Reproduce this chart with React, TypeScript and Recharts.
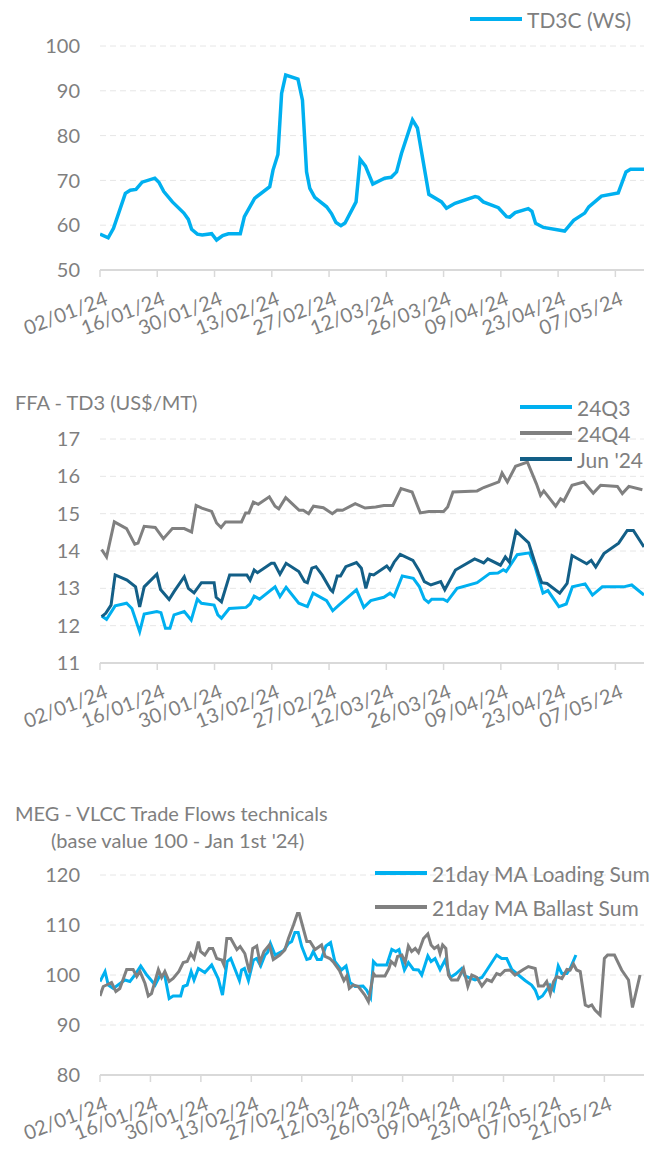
import React from "react";
import { LineChart, Line, XAxis, YAxis, CartesianGrid } from "recharts";

// day offsets are counted from 02/01/24
const tickDays = [0, 14, 28, 42, 56, 70, 84, 98, 112, 126];
const tickLabels = ["02/01/24", "16/01/24", "30/01/24", "13/02/24", "27/02/24", "12/03/24", "26/03/24", "09/04/24", "23/04/24", "07/05/24"];
const tickDays3 = [0, 14, 28, 42, 56, 70, 84, 98, 112, 126, 140];
const tickLabels3 = [...tickLabels, "21/05/24"];

// TD3C (WS) spot
const td3c = [
  [0, 58.0], [2, 57.2], [3.3, 59.3], [6.2, 67.1], [7.4, 67.8], [8.8, 68.0], [10.3, 69.6], [13.4, 70.5], [14.4, 69.6],
  [15.6, 67.5], [17.7, 65.2], [20.5, 62.7], [21.6, 61.3], [22.4, 59.1], [23.8, 58.0], [25, 57.8], [27.3, 58.1],
  [28.5, 56.7], [30, 57.7], [31.4, 58.1], [34.3, 58.1], [35.3, 61.9], [37.8, 66.0], [41.5, 68.6], [42.3, 72.3],
  [43.5, 75.8], [44.4, 89.4], [45.4, 93.5], [48.4, 92.6], [49.5, 87.9], [50.5, 71.9], [51.3, 68.2], [52.5, 66.2],
  [55.4, 64.1], [56.6, 62.6], [57.7, 60.6], [58.9, 59.9], [59.9, 60.5], [62.6, 65.2], [63.6, 74.7], [64.9, 73.2],
  [66.7, 69.2], [69.6, 70.5], [71.2, 70.7], [72.5, 71.9], [73.7, 76.0], [76.4, 83.5], [77.6, 81.7], [80.4, 66.9],
  [83.5, 65.2], [84.7, 63.8], [86.8, 64.9], [91.7, 66.4], [92.5, 66.2], [93.7, 65.2], [97.4, 63.9], [99.4, 61.9],
  [100.2, 61.8], [101.5, 62.8], [104.7, 63.7], [105.6, 63.1], [106.5, 60.4], [108.4, 59.5], [113.6, 58.7],
  [115.8, 61.1], [118.5, 62.7], [119.5, 64.1], [122.6, 66.5], [126.7, 67.2], [128.6, 71.9], [129.7, 72.5], [133, 72.5],
];

// FFA TD3 US$/MT
const q3 = [
  [0.4, 12.26], [1.6, 12.17], [3.7, 12.53], [6.5, 12.6], [7.8, 12.46], [9.7, 11.84], [10.8, 12.31], [13.9, 12.38],
  [14.9, 12.35], [16, 11.93], [17.1, 11.93], [18.1, 12.29], [20.6, 12.38], [22.3, 12.15], [23.8, 12.71], [24.8, 12.6],
  [27.9, 12.55], [28.8, 12.29], [29.7, 12.2], [31.6, 12.46], [35.7, 12.49], [36.7, 12.58], [37.7, 12.79], [39, 12.71],
  [42.8, 13.04], [44, 12.78], [45.5, 13.03], [48.6, 12.6], [50.7, 12.51], [52.1, 12.87], [55.4, 12.67], [56.9, 12.4],
  [58.4, 12.55], [62.7, 12.96], [64.5, 12.49], [66.2, 12.67], [69.4, 12.76], [70.9, 12.87], [71.9, 12.78],
  [73.9, 13.33], [76.6, 13.27], [78.1, 13.04], [79.3, 12.71], [80.3, 12.62], [81.1, 12.71], [83.9, 12.71],
  [84.9, 12.65], [87.3, 13.0], [92.2, 13.15], [95.3, 13.4], [97.3, 13.41], [98.6, 13.5], [99.3, 13.45], [102, 13.9],
  [105, 13.95], [106.3, 13.6], [108.3, 12.87], [109.5, 12.94], [112.2, 12.51], [114, 12.58], [115.5, 13.04],
  [118.6, 13.12], [120.4, 12.82], [122.8, 13.04], [128, 13.04], [130, 13.09], [133, 12.82],
];
const q4 = [
  [0.4, 14.04], [1.6, 13.84], [3.5, 14.78], [6.5, 14.6], [8.5, 14.18], [9.3, 14.21], [10.8, 14.66], [13.5, 14.63],
  [15.5, 14.33], [17.7, 14.6], [20.6, 14.6], [22.4, 14.51], [23.5, 15.22], [24.9, 15.15], [27.3, 15.06], [28.5, 14.75],
  [29.6, 14.63], [30.7, 14.78], [34.6, 14.78], [35.6, 15.02], [36.4, 15.02], [37.5, 15.31], [38.7, 15.25],
  [41.4, 15.45], [42.8, 15.2], [43.7, 15.13], [45.4, 15.43], [48.7, 15.09], [49.7, 15.09], [51, 15.0], [52.2, 15.2],
  [54.6, 15.16], [56.8, 15.0], [58, 15.1], [59.3, 15.09], [62.4, 15.27], [64.8, 15.15], [67.4, 15.18], [69.4, 15.22],
  [71.6, 15.22], [73.6, 15.67], [76.3, 15.58], [78.3, 15.02], [80.4, 15.06], [84, 15.06], [85, 15.18], [86.3, 15.58],
  [92.2, 15.61], [93.8, 15.7], [97.5, 15.85], [98.3, 16.09], [99.6, 15.85], [101.6, 16.27], [104.5, 16.38],
  [106.7, 15.8], [107.7, 15.49], [108.5, 15.61], [111.4, 15.2], [112.6, 15.4], [113.4, 15.34], [115.4, 15.76],
  [118.3, 15.85], [120.6, 15.55], [122.4, 15.76], [126.5, 15.73], [127.7, 15.54], [129.3, 15.73], [132.6, 15.64],
];
const jun24 = [
  [0.4, 12.24], [1.4, 12.33], [2.7, 12.55], [3.7, 13.36], [6.6, 13.22], [8.7, 13.04], [9.7, 12.5], [10.8, 13.04],
  [13.9, 13.38], [14.8, 12.97], [16.9, 12.7], [18.1, 12.91], [20.6, 13.31], [21.6, 13.0], [23, 12.88], [24.8, 13.15],
  [27.9, 13.15], [28.4, 12.76], [29.7, 12.64], [31.7, 13.36], [35.9, 13.36], [36.7, 13.22], [37.7, 13.49],
  [38.5, 13.42], [41.9, 13.67], [42.6, 13.67], [44, 13.38], [45.5, 13.67], [48.6, 13.45], [50, 13.18], [50.7, 13.15],
  [51.8, 13.54], [52.8, 13.58], [54.3, 13.36], [56.4, 12.96], [56.9, 12.91], [58, 13.33], [58.8, 13.33], [60.1, 13.58],
  [62.7, 13.69], [63.9, 13.54], [65, 13.0], [66, 13.38], [66.9, 13.36], [70.1, 13.6], [70.9, 13.49], [71.9, 13.7],
  [73.4, 13.91], [76.5, 13.75], [78, 13.48], [79.3, 13.18], [80.9, 13.09], [83.3, 13.18], [84.3, 12.96], [86.9, 13.49],
  [91.6, 13.79], [93, 13.72], [93.8, 13.68], [94.8, 13.79], [97.9, 13.62], [99.1, 13.84], [100.1, 13.7],
  [101.7, 14.53], [104.8, 14.22], [106.3, 13.7], [107.2, 13.39], [108, 13.15], [109.3, 13.13], [112.4, 12.87],
  [114.2, 13.13], [115.4, 13.88], [119, 13.66], [120.1, 13.75], [121.2, 13.57], [123.2, 13.93], [126.8, 14.21],
  [128.9, 14.55], [130.4, 14.55], [133, 14.11],
];

// MEG VLCC 21day MA, base 100
const loading = [
  [0, 98.7], [1.4, 100.7], [2.3, 98.0], [3.7, 97.3], [6.9, 99.0], [8.3, 98.7], [9.7, 100], [11.3, 101.8], [13, 100],
  [15.3, 98], [16.7, 100], [18, 99.8], [19.2, 95.3], [20.3, 95.8], [22.4, 95.8], [23.1, 97.7], [24.2, 98],
  [25.3, 100.7], [26.1, 99], [27.3, 101.3], [29.1, 100.5], [31, 102], [32.8, 99.3], [34, 96], [35.3, 102.7],
  [36.3, 103.3], [38.7, 98.9], [39.3, 101], [40.1, 101.3], [41.2, 98.9], [42.6, 103], [43.5, 103.3], [44.6, 101.8],
  [45.8, 104], [46.5, 104.5], [47.3, 106.3], [48.6, 104], [51, 104.9], [52.3, 106.3], [53.2, 106.7], [54.1, 108.5],
  [55, 108.5], [56, 105.7], [57.4, 103.1], [58.3, 103.3], [59.2, 104.7], [60.3, 103.1], [61.4, 103.1], [62.7, 105.8],
  [64, 106.5], [65.2, 102.7], [67, 101], [68.3, 101.8], [69.4, 98.5], [70.8, 97.7], [73, 97.8], [74, 97],
  [75.1, 95.5], [75.9, 102.7], [76.8, 102], [79.6, 102], [81, 105.1], [82.1, 104.7], [83, 105.1], [84.5, 101],
  [85.6, 102.5], [87, 101.1], [88.4, 101], [89.3, 100], [91, 103.8], [91.9, 102.7], [93, 103.3], [94.4, 101.1],
  [95.8, 103], [97.2, 99.5], [98.7, 100.2], [100.4, 101.3], [101.3, 99.8], [104.1, 99], [106, 99.5], [107.4, 101],
  [110.1, 104], [111.5, 103.3], [112.9, 103.3], [114.3, 101.1], [118, 98.9], [119.8, 98], [120.8, 97], [121.7, 95.3],
  [122.8, 95.8], [124.9, 98], [125.9, 97], [127.2, 101.8], [128.2, 100.3], [129.6, 100.3], [130.5, 101.3], [132.1, 104],
];
const ballast = [
  [0, 95.8], [0.9, 97.7], [1.8, 98], [3.2, 98.5], [4.4, 96.7], [5.5, 97.3], [7.4, 101.1], [9.2, 101.1], [10.2, 99.7],
  [11.1, 100.7], [12.5, 98.3], [13.4, 95.8], [14.3, 96.3], [16.2, 101.1], [17.1, 99.5], [18, 100.7], [19.2, 98.7],
  [20.3, 99.3], [21.9, 100.7], [23.1, 102.5], [24.2, 102.7], [25.2, 104.3], [26.1, 103.3], [27.3, 106.7],
  [27.9, 104.7], [29.1, 104], [30.3, 105.3], [31.3, 105.3], [32.4, 103.3], [33.8, 103], [34.4, 102], [35.2, 107.3],
  [36.3, 107.3], [38, 105.1], [38.9, 105.7], [40.2, 104.3], [41.5, 100.5], [42.4, 105.3], [43.5, 105.8],
  [44.4, 102.5], [45.5, 104.7], [47, 106], [48.1, 103.1], [49.9, 104], [51.3, 105], [52.3, 107.3], [53.7, 110],
  [54.8, 112.3], [55.3, 112.3], [57.4, 106.7], [58.3, 106.7], [59.7, 105.1], [61.5, 106], [62.5, 103.7],
  [63.8, 103.3], [64.9, 102.5], [66.4, 101], [67.7, 98.9], [68.5, 99.8], [69.2, 97.3], [70.3, 98], [71.7, 97.7],
  [73.5, 96], [74.5, 94.7], [75.9, 100.3], [76.4, 99.8], [79.1, 99.8], [80.2, 101.3], [80.8, 102.7], [81.9, 102],
  [82.6, 103.7], [83.8, 104], [84.7, 102.5], [85.6, 105.8], [86.5, 104.7], [87.5, 105.3], [88.4, 104.5],
  [89.8, 107.3], [91, 108.2], [91.9, 106], [92.8, 105.3], [93.8, 105.8], [94.4, 104.3], [95.1, 106], [96, 105.3],
  [96.7, 100], [97.6, 99], [99.3, 99], [100.9, 101.3], [102.1, 97.7], [103.2, 100], [104.6, 99.5], [106, 97.8],
  [107.4, 99.1], [108.7, 98.7], [110.1, 100.3], [111.1, 100], [112.4, 100.9], [113.8, 101], [115.2, 100],
  [117.5, 101.1], [118.9, 101.7], [120.8, 101.3], [121.7, 97.8], [123.1, 97.8], [124, 98.7], [125, 96.3],
  [125.9, 98.7], [126.8, 99.7], [128.2, 99.3], [129.6, 101.1], [130.5, 101], [131.4, 102.2], [132.3, 101],
  [133.3, 100.7], [134.7, 94], [135.6, 93.7], [136.5, 94], [137.4, 93], [138.8, 92], [140, 103.3], [140.9, 104],
  [142.8, 104], [144.8, 101], [146.7, 99], [147.8, 93.5], [149.9, 100],
];

const FONT = "Lato, 'Open Sans', sans-serif";
const TXT = "#7f7f7f";
const BLUE = "#00b0f0";
const GREY = "#808080";
const NAVY = "#135f87";
const FS = 20;

const rows = (arr: number[][]) => arr.map(([d, v]) => ({ d, v }));

const DateTick = (props: any) => {
  const { x = 0, y = 0, payload, days, labels } = props;
  const i = days.indexOf(payload?.value);
  return (
    <g transform={`translate(${x + 4},${y + 12})`}>
      <text x={0} y={0} dy={14} textAnchor="end" transform="rotate(-21)" fill={TXT} fontSize={FS} fontFamily={FONT}>
        {i >= 0 ? labels[i] : ""}
      </text>
    </g>
  );
};

const LegendBox = ({ items, left, top, gap }: { items: { label: string; color: string }[]; left: number; top: number; gap: number }) => (
  <div style={{ position: "absolute", left, top }}>
    {items.map((it, i) => (
      <div key={it.label} style={{ position: "absolute", top: i * gap - 12, left: 0, height: 24, display: "flex", alignItems: "center", whiteSpace: "nowrap" }}>
        <span style={{ display: "inline-block", width: 52, height: 4, background: it.color, marginRight: 5 }} />
        <span style={{ fontSize: 21, color: TXT, fontFamily: FONT }}>{it.label}</span>
      </div>
    ))}
  </div>
);

const axisProps = {
  type: "number" as const,
  dataKey: "d",
  interval: 0 as const,
  axisLine: { stroke: "#d9d9d9", strokeWidth: 2 },
  tickLine: { stroke: "#d9d9d9", strokeWidth: 1.5 },
  tickSize: 7,
  tickMargin: 2,
  allowDataOverflow: true,
};

const yProps = {
  width: 100,
  axisLine: false,
  tickLine: false,
  tickMargin: 14,
  tick: { fill: TXT, fontSize: FS, fontFamily: FONT },
  allowDataOverflow: true,
};

const grid = <CartesianGrid vertical={false} stroke="#e6e6e6" strokeDasharray="6 4" />;

export default function App() {
  return (
    <div style={{ position: "absolute", left: 0, top: 0, width: 662, height: 1149, background: "#fff", fontFamily: FONT }}>
      {/* TD3C spot */}
      <div style={{ position: "absolute", left: 0, top: 0 }}>
        <LineChart width={662} height={340} margin={{ top: 46, right: 18, left: 0, bottom: 0 }}>
          {grid}
          <XAxis {...axisProps} height={70} domain={[0, 133]} ticks={tickDays} tick={<DateTick days={tickDays} labels={tickLabels} />} />
          <YAxis {...yProps} domain={[50, 100]} ticks={[50, 60, 70, 80, 90, 100]} />
          <Line data={rows(td3c)} dataKey="v" name="TD3C (WS)" stroke={BLUE} strokeWidth={3.5} dot={false} isAnimationActive={false} />
        </LineChart>
      </div>
      <LegendBox left={470} top={19} gap={26} items={[{ label: "TD3C (WS)", color: BLUE }]} />

      {/* FFA TD3 */}
      <div style={{ position: "absolute", left: 15, top: 390, fontSize: FS, lineHeight: "24px", color: TXT }}>FFA - TD3 (US$/MT)</div>
      <div style={{ position: "absolute", left: 0, top: 370 }}>
        <LineChart width={662} height={370} margin={{ top: 69, right: 18, left: 0, bottom: 0 }}>
          {grid}
          <XAxis {...axisProps} height={77} domain={[0, 133]} ticks={tickDays} tick={<DateTick days={tickDays} labels={tickLabels} />} />
          <YAxis {...yProps} domain={[11, 17]} ticks={[11, 12, 13, 14, 15, 16, 17]} />
          <Line data={rows(q3)} dataKey="v" name="24Q3" stroke={BLUE} strokeWidth={3} dot={false} isAnimationActive={false} />
          <Line data={rows(q4)} dataKey="v" name="24Q4" stroke={GREY} strokeWidth={3} dot={false} isAnimationActive={false} />
          <Line data={rows(jun24)} dataKey="v" name="Jun '24" stroke={NAVY} strokeWidth={3} dot={false} isAnimationActive={false} />
        </LineChart>
      </div>
      <LegendBox left={520} top={407} gap={26} items={[{ label: "24Q3", color: BLUE }, { label: "24Q4", color: GREY }, { label: "Jun '24", color: NAVY }]} />

      {/* MEG VLCC trade flows */}
      <div style={{ position: "absolute", left: 15, top: 801, fontSize: FS, lineHeight: "24px", color: TXT }}>MEG - VLCC Trade Flows technicals</div>
      <div style={{ position: "absolute", left: 51, top: 828, fontSize: FS, lineHeight: "24px", color: TXT }}>(base value 100 - Jan 1st '24)</div>
      <div style={{ position: "absolute", left: 0, top: 780 }}>
        <LineChart width={662} height={369} margin={{ top: 95, right: 18, left: 0, bottom: 0 }}>
          {grid}
          <XAxis {...axisProps} height={74} domain={[0, 151]} ticks={tickDays3} tick={<DateTick days={tickDays3} labels={tickLabels3} />} />
          <YAxis {...yProps} domain={[80, 120]} ticks={[80, 90, 100, 110, 120]} />
          <Line data={rows(loading)} dataKey="v" name="21day MA Loading Sum" stroke={BLUE} strokeWidth={3} dot={false} isAnimationActive={false} />
          <Line data={rows(ballast)} dataKey="v" name="21day MA Ballast Sum" stroke={GREY} strokeWidth={3} dot={false} isAnimationActive={false} />
        </LineChart>
      </div>
      <LegendBox left={375} top={873} gap={34} items={[{ label: "21day MA Loading Sum", color: BLUE }, { label: "21day MA Ballast Sum", color: GREY }]} />
    </div>
  );
}
